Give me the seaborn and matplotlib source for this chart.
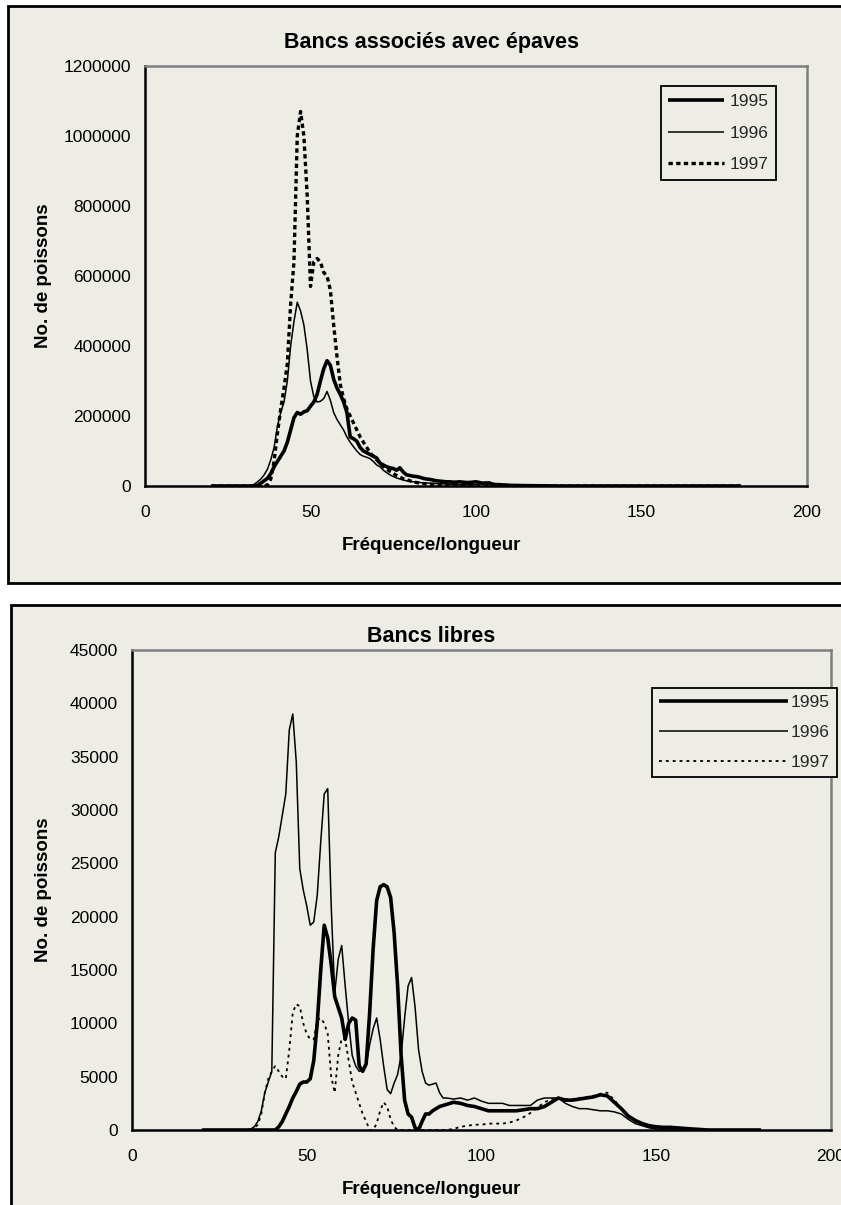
import numpy as np
import pandas as pd
import matplotlib
matplotlib.use("Agg")
import matplotlib.pyplot as plt
from matplotlib.patches import Rectangle
import seaborn as sns

# ---------------------------------------------------------------- data
years = ["1995", "1996", "1997"]

# Panel 1: schools associated with floating objects
len_top = [20] + list(range(30, 111)) + [115, 120, 125, 130, 140, 150, 160, 170, 180]
top_1995 = [0,
    0, 0, 0, 0, 2000, 8000, 15000, 22000, 35000, 55000,
    70000, 85000, 100000, 125000, 160000, 195000, 210000, 205000, 212000, 215000,
    228000, 240000, 262000, 300000, 335000, 358000, 345000, 305000, 280000, 262000,
    240000, 210000, 140000, 135000, 128000, 110000, 100000, 95000, 90000, 85000,
    80000, 65000, 60000, 55000, 52000, 50000, 45000, 52000, 40000, 32000,
    30000, 28000, 27000, 25000, 22000, 20000, 19000, 17000, 15000, 14000,
    13000, 12000, 12000, 11000, 11000, 12000, 11000, 10000, 10000, 11000,
    12000, 10000, 8000, 9000, 7000, 5000, 4000, 4000, 3000, 3000,
    2000,
    1000, 500, 0, 0, 0, 0, 0, 0, 0]
top_1996 = [0,
    0, 0, 1000, 5000, 12000, 20000, 32000, 48000, 75000, 110000,
    170000, 210000, 240000, 300000, 400000, 470000, 525000, 500000, 460000, 390000,
    300000, 255000, 240000, 242000, 250000, 270000, 245000, 210000, 190000, 175000,
    160000, 140000, 125000, 112000, 100000, 90000, 85000, 82000, 78000, 70000,
    60000, 55000, 45000, 38000, 32000, 27000, 23000, 20000, 17000, 15000,
    13000, 12000, 11000, 10000, 9000, 9000, 8000, 8000, 7000, 7000,
    6000, 6000, 5000, 5000, 5000, 4000, 4000, 4000, 5000, 4000,
    4000, 6000, 5000, 9000, 12000, 8000, 5000, 3000, 2000, 1000,
    1000,
    500, 0, 0, 0, 0, 0, 0, 0, 0]
top_1997 = [0,
    0, 0, 0, 0, 0, 0, 0, 3000, 20000, 70000,
    150000, 220000, 280000, 350000, 520000, 640000, 1000000, 1070000, 1000000, 830000,
    570000, 640000, 650000, 640000, 610000, 600000, 560000, 460000, 370000, 290000,
    250000, 220000, 200000, 180000, 160000, 140000, 125000, 110000, 95000, 85000,
    75000, 65000, 55000, 48000, 42000, 36000, 30000, 25000, 21000, 18000,
    15000, 12000, 10000, 8000, 7000, 6000, 5000, 4000, 3000, 3000,
    2000, 2000, 1500, 1500, 1000, 1000, 800, 500, 300, 200,
    0, 0, 0, 0, 0, 0, 0, 0, 0, 0,
    0,
    0, 0, 0, 0, 0, 0, 0, 0, 0]

# Panel 2: free schools
len_bot = [20] + list(range(30, 91)) + list(range(92, 161, 2)) + [165, 170, 180]
bot_1995 = [0,
    0, 0, 0, 0, 0, 0, 0, 0, 0, 0,
    0, 0, 300, 800, 1500, 2200, 3000, 3600, 4300, 4500,
    4500, 4800, 6500, 10000, 15000, 19200, 18000, 15500, 12500, 11500,
    10500, 8500, 10000, 10500, 10300, 6000, 5500, 6200, 11000, 17000,
    21500, 22800, 23000, 22800, 21800, 18500, 13500, 7000, 2800, 1500,
    1200, 200, 0, 800, 1500, 1500, 1800, 2000, 2200, 2300,
    2400,
    2600, 2500, 2300, 2200, 2000, 1800, 1800, 1800, 1800, 1800,
    1900, 2000, 2000, 2200, 2600, 3000, 2800, 2800, 2900, 3000,
    3100, 3300, 3200, 2600, 2000, 1300, 900, 600, 400, 300,
    250, 250, 200, 150, 100,
    0, 0, 0]
bot_1996 = [0,
    0, 0, 0, 0, 100, 300, 800, 1800, 3500, 4500,
    5500, 26000, 27500, 29500, 31500, 37500, 39000, 34500, 24500, 22500,
    21000, 19200, 19500, 22000, 27000, 31500, 32000, 21000, 12800, 16000,
    17300, 13500, 10000, 7000, 6000, 5500, 5600, 6000, 8000, 9500,
    10500, 8500, 6000, 3800, 3400, 4400, 5200, 7000, 10500, 13500,
    14300, 11500, 7500, 5500, 4400, 4200, 4300, 4400, 3500, 3000,
    3000,
    2900, 3000, 2800, 3000, 2700, 2500, 2500, 2500, 2300, 2300,
    2300, 2300, 2800, 3000, 3000, 3000, 2500, 2200, 2000, 2000,
    1900, 1800, 1800, 1700, 1500, 1000, 600, 400, 200, 100,
    0, 0, 0, 0, 0,
    0, 0, 0]
bot_1997 = [0,
    0, 0, 0, 0, 0, 200, 500, 1500, 3500, 4800,
    5500, 6000, 5500, 5000, 4800, 7500, 11000, 11800, 11600, 10000,
    9000, 8500, 8500, 10300, 10500, 10000, 9000, 5000, 3500, 7000,
    8600, 8500, 6500, 4500, 3500, 2500, 1500, 800, 0, 0,
    600, 1800, 2600, 2200, 1000, 300, 0, 0, 0, 0,
    0, 0, 0, 0, 0, 0, 0, 0, 0, 0,
    0,
    100, 300, 400, 500, 500, 600, 600, 600, 700, 900,
    1200, 1600, 2100, 2600, 2900, 3000, 2900, 2900, 3000, 3100,
    3200, 3400, 3500, 2800, 2000, 1300, 800, 500, 300, 200,
    100, 0, 0, 0, 0,
    0, 0, 0]

top_title = "Bancs associés avec épaves"
bot_title = "Bancs libres"
x_label = "Fréquence/longueur"
y_label = "No. de poissons"
x_ticks = [0, 50, 100, 150, 200]
top_yticks = [0, 200000, 400000, 600000, 800000, 1000000, 1200000]
bot_yticks = [0, 5000, 10000, 15000, 20000, 25000, 30000, 35000, 40000, 45000]

# ---------------------------------------------------------------- style
sns.set_theme(style="white")
plt.rcParams["font.family"] = ["Liberation Sans", "DejaVu Sans"]

BG = "#EDECE5"
GRID_EDGE = "#7F7F7F"
CHART_CX = 431          # horizontal centre of each chart frame, px

W, H = 841, 1205
fig = plt.figure(figsize=(W / 100, H / 100), dpi=100)
fig.patch.set_facecolor("white")


def px_rect(x0, y0, x1, y1):
    """Convert a pixel box (top-left origin) to figure fractions."""
    return [x0 / W, 1 - y1 / H, (x1 - x0) / W, (y1 - y0) / H]


# chart frames (each extends past the right edge of the canvas)
for (x0, y0, x1, y1) in [(8, 6, 860, 583), (11, 605, 860, 1230)]:
    l, b, w, h = px_rect(x0, y0, x1, y1)
    fig.patches.append(Rectangle((l, b), w, h, transform=fig.transFigure,
                                 facecolor=BG, edgecolor="black", linewidth=2.0,
                                 zorder=-10))

line_kw = {
    "1995": dict(linewidth=2.6, linestyle="-"),
    "1996": dict(linewidth=1.1, linestyle="-"),
}


def draw_panel(ax, box, lengths, series, title, yticks, dots_kw,
               title_pad, xlabel_top_px):
    x0, y0, x1, y1 = box
    frames = []
    for yr, vals in zip(years, series):
        frames.append(pd.DataFrame({"length": lengths, "count": vals, "year": yr}))
    df = pd.concat(frames, ignore_index=True)
    for yr in years:
        kw = line_kw.get(yr, dots_kw)
        sns.lineplot(data=df[df["year"] == yr], x="length", y="count",
                     color="black", errorbar=None, ax=ax, label=yr,
                     solid_capstyle="butt", dash_capstyle="butt", **kw)
    ax.set_facecolor(BG)
    ax.set_xlim(0, 200)
    ax.set_ylim(0, yticks[-1])
    ax.set_xticks(x_ticks)
    ax.set_yticks(yticks)
    ax.set_xticklabels([str(t) for t in x_ticks])
    ax.set_yticklabels([str(t) for t in yticks])
    ax.tick_params(axis="both", direction="inout", length=8, width=1.3,
                   colors="black", labelsize=12.5, pad=6)
    ax.tick_params(axis="x", pad=10)
    for s in ("left", "bottom"):
        ax.spines[s].set_color("black")
        ax.spines[s].set_linewidth(1.8)
    for s in ("top", "right"):
        ax.spines[s].set_color(GRID_EDGE)
        ax.spines[s].set_linewidth(1.8)

    cx = (CHART_CX - x0) / (x1 - x0)
    ax.set_title(title, fontsize=15.5, fontweight="bold", pad=title_pad,
                 color="black", x=cx)
    ax.set_xlabel(x_label, fontsize=13.5, fontweight="bold", color="black")
    ax.xaxis.set_label_coords(cx, (y1 - xlabel_top_px) / (y1 - y0))
    ax.set_ylabel(y_label, fontsize=13.5, fontweight="bold", color="black",
                  va="center")
    ax.yaxis.set_label_coords((43 - x0) / (x1 - x0), 0.5)
    ax.grid(False)


def style_legend(leg):
    fr = leg.get_frame()
    fr.set_edgecolor("black")
    fr.set_linewidth(1.3)
    fr.set_facecolor(BG)
    fr.set_alpha(1)


box1 = (145, 66, 807, 486)
ax1 = fig.add_axes(px_rect(*box1))
draw_panel(ax1, box1, len_top, [top_1995, top_1996, top_1997], top_title, top_yticks,
           dict(linewidth=2.4, dashes=(1.3, 1.0)), title_pad=13, xlabel_top_px=537)
leg1 = ax1.legend(loc="upper right", bbox_to_anchor=((776 - 145) / 662, (486 - 86) / 420),
                  frameon=True, fancybox=False, fontsize=12.5, handlelength=3.2,
                  handletextpad=0.3, borderpad=0.45, labelspacing=0.95,
                  borderaxespad=0)
style_legend(leg1)

box2 = (132, 650, 831, 1130)
ax2 = fig.add_axes(px_rect(*box2))
draw_panel(ax2, box2, len_bot, [bot_1995, bot_1996, bot_1997], bot_title, bot_yticks,
           dict(linewidth=1.3, dashes=(1.6, 2.2)), title_pad=6, xlabel_top_px=1181)
leg2 = ax2.legend(loc="upper right", bbox_to_anchor=((837 - 132) / 699, (1130 - 688) / 480),
                  frameon=True, fancybox=False, fontsize=12.5, handlelength=7.4,
                  handletextpad=0.2, borderpad=0.4, labelspacing=0.85,
                  borderaxespad=0)
style_legend(leg2)

fig.savefig("out.png", dpi=100, facecolor="white")
